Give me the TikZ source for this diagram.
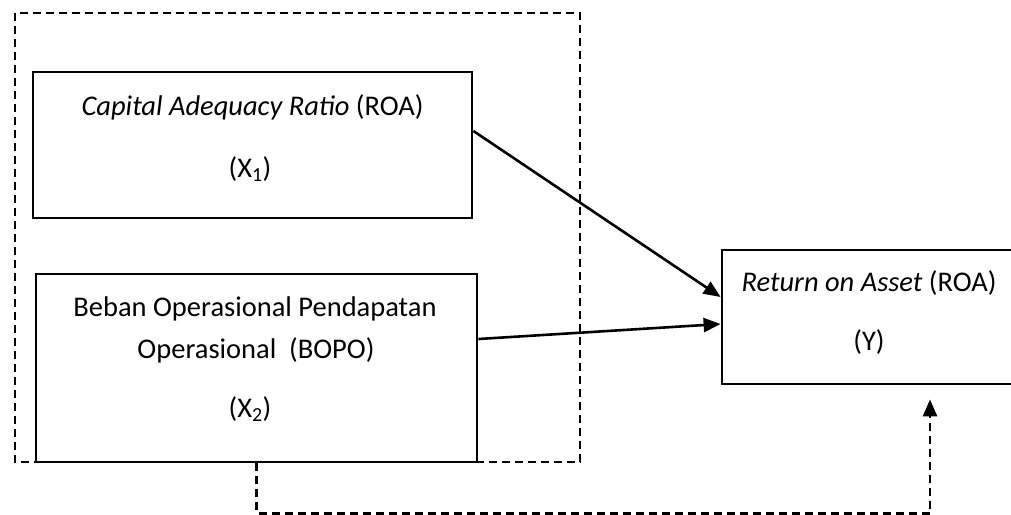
\documentclass[tikz,border=0pt]{standalone}
\usepackage{fontspec}
\setmainfont{Carlito}
\usetikzlibrary{arrows.meta,calc}
\begin{document}
\begin{tikzpicture}[x=1pt,y=-1pt,
  box/.style={draw=black, line width=2.8pt, rectangle, inner sep=0pt},
  lbl/.style={anchor=base, inner sep=0pt, font=\fontsize{28.5}{34}\selectfont},
  arr/.style={line width=2.6pt, -{Triangle[length=17pt,width=14pt]}},
  dashline/.style={line width=2.6pt, dash pattern=on 8pt off 5pt}]
\useasboundingbox (0,0) rectangle (1011,514);
% outer dashed frame
\draw[dashline] (15,13) rectangle (580,462);
% boxes
\node[box, fill=white, minimum width=439pt, minimum height=146pt] (b1) at (252.5,145) {};
\node[box, fill=white, minimum width=441pt, minimum height=188pt] (b2) at (256.5,368) {};
\node[box, fill=white, minimum width=294pt, minimum height=134pt] (y) at (869,317) {};
% labels
\node[lbl] (t1a) at (252.5,115) {\textit{Capital Adequacy Ratio} (ROA)};
\node[lbl] (t1b) at (250,177) {(X\textsubscript{1})};
\node[lbl] (t2a) at (255,316) {Beban Operasional Pendapatan};
\node[lbl] (t2b) at (256,358) {Operasional\ \ (BOPO)};
\node[lbl] (t2c) at (250,417) {(X\textsubscript{2})};
\node[lbl] (tya) at (869,291) {\textit{Return on Asset} (ROA)};
\node[lbl] (tyb) at (869,350) {(Y)};
% connectors
\draw[arr] ($(b1.east)+(0,-14)$) -- ($(y.west)+(0,-20)$);
\draw[arr] ($(b2.east)+(0,-29)$) -- ($(y.west)+(0,7)$);
\coordinate (fb) at ($(y.south)+(61,14)$);
\draw[dashline, -{Triangle[length=17pt,width=14pt]}] (b2.south) -- ++(0,50) -| (fb);
\end{tikzpicture}
\end{document}
